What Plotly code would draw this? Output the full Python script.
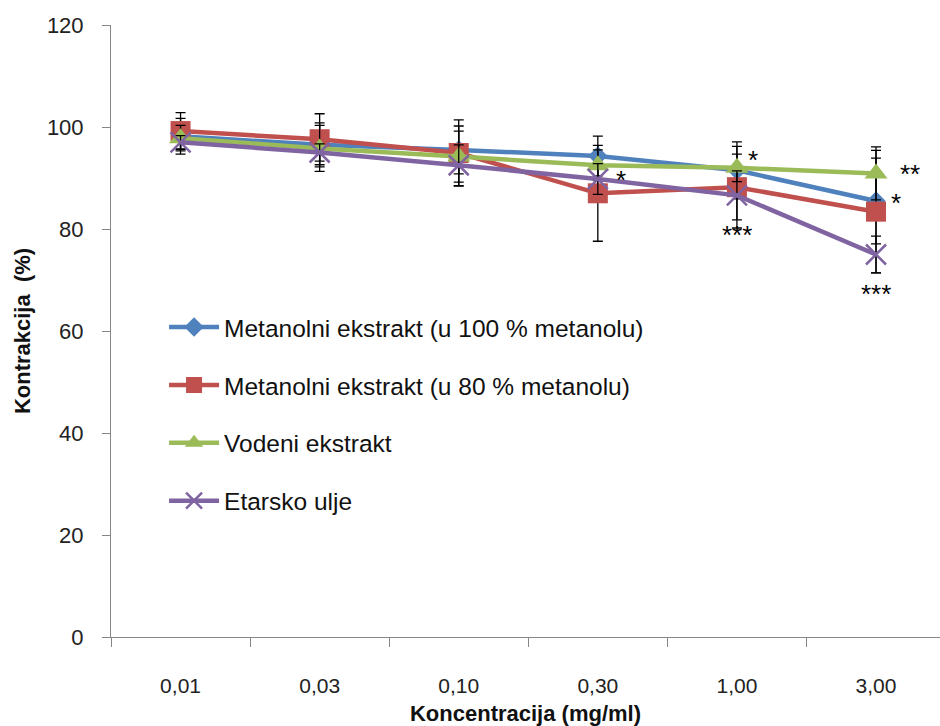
import plotly.graph_objects as go

categories = ["0,01", "0,03", "0,10", "0,30", "1,00", "3,00"]

names = ["Metanolni ekstrakt (u 100 % metanolu)",
         "Metanolni ekstrakt (u 80 % metanolu)",
         "Vodeni ekstrakt",
         "Etarsko ulje"]

blue_vals = [98.2, 96.5, 95.5, 94.3, 91.5, 85.5]
blue_err = [3.5, 4.3, 4.7, 3.9, 5.6, 8.4]
red_vals = [99.2, 97.6, 94.9, 87.0, 88.2, 83.4]
red_err = [3.6, 5.0, 6.5, 9.4, 8.0, 12.0]
green_vals = [97.8, 95.8, 94.2, 92.5, 92.0, 90.9]
green_err = [2.5, 4.5, 5.0, 3.0, 2.7, 5.2]
purple_vals = [97.0, 95.0, 92.5, 89.8, 86.6, 75.0]
purple_err = [1.3, 1.7, 4.0, 3.0, 4.8, 3.6]

# significance labels: (category index, y value, text, x shift px)
sig_cat = [3, 4, 4, 5, 5, 5]
sig_y = [89.6, 93.5, 78.8, 90.8, 85.1, 67.3]
sig_text = ["*", "*", "***", "**", "*", "***"]
sig_dx = [23, 16, 0, 34, 20, 0]

colors = ["#4F81BD", "#C0504D", "#9BBB59", "#8064A2"]
symbols = ["diamond", "square", "triangle-up", "x-thin-open"]
sizes = [15, 20, 20, 20]

values = [blue_vals, red_vals, green_vals, purple_vals]
errors = [blue_err, red_err, green_err, purple_err]

fig = go.Figure()
for i in range(4):
    marker = dict(symbol=symbols[i], size=sizes[i], color=colors[i])
    if symbols[i] == "x-thin-open":
        marker["line"] = dict(color=colors[i], width=2.5)
    fig.add_trace(go.Scatter(
        x=categories, y=values[i], name=names[i], mode="lines+markers",
        line=dict(color=colors[i], width=4.5),
        marker=marker,
        legendgroup=f"g{i}",
        error_y=dict(type="data", array=errors[i], symmetric=True,
                     color="black", thickness=1.3, width=5),
    ))

for c, yv, t, dx in zip(sig_cat, sig_y, sig_text, sig_dx):
    fig.add_annotation(x=c, y=yv, text=t, showarrow=False, xref="x", yref="y",
                       xshift=dx, font=dict(size=26, color="black",
                                            family="Liberation Sans"))

fig.update_layout(
    width=940, height=726,
    margin=dict(l=111, r=0, t=25, b=89),
    plot_bgcolor="white", paper_bgcolor="white",
    font=dict(family="Liberation Sans", color="#222222"),
    showlegend=True,
    legend=dict(x=0.064, y=0.543, xanchor="left", yanchor="top",
                font=dict(size=24.5, color="#111111"),
                tracegroupgap=23, bgcolor="rgba(0,0,0,0)",
                itemwidth=50),
    xaxis=dict(
        type="category", range=[-0.5, 5.46],
        showline=True, linecolor="#868686", linewidth=1,
        ticks="outside", ticklen=9, tickcolor="#868686",
        tickson="boundaries", showgrid=False, zeroline=False,
        tickfont=dict(size=21, family="Liberation Sans", color="#222222"),
        ticklabelstandoff=30,
        title=dict(text="<b>Koncentracija (mg/ml)</b>",
                   font=dict(size=22, family="Liberation Sans", color="#111111"),
                   standoff=12),
    ),
    yaxis=dict(
        range=[0, 120], dtick=20,
        showline=True, linecolor="#868686", linewidth=1,
        ticks="outside", ticklen=8, tickcolor="#868686",
        showgrid=False, zeroline=False,
        tickfont=dict(size=22, family="Liberation Sans", color="#222222"),
        ticklabelstandoff=14,
        title=dict(text="<b>Kontrakcija  (%)</b>",
                   font=dict(size=22, family="Liberation Sans", color="#111111"),
                   standoff=10),
    ),
)

fig.write_html("out.html")
